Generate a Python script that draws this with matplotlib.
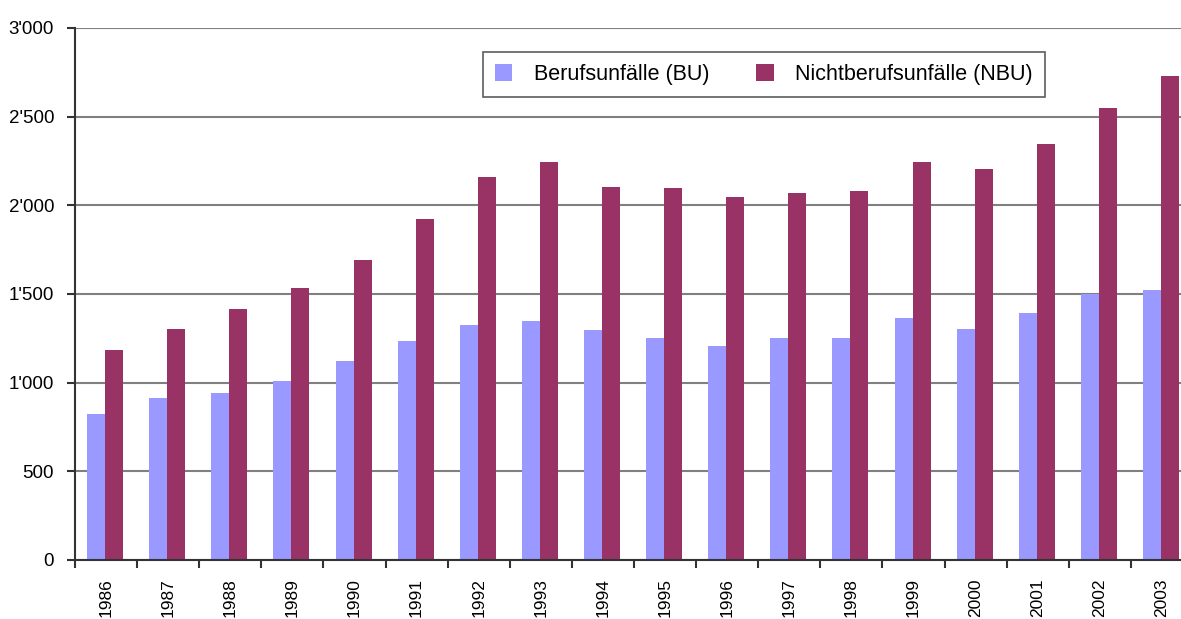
import matplotlib
matplotlib.use("Agg")
import matplotlib.pyplot as plt
import numpy as np
from matplotlib.ticker import FuncFormatter, FixedLocator

plt.rcParams['font.family'] = ['Liberation Sans', 'DejaVu Sans']

years = [str(y) for y in range(1986, 2004)]
bu = [823, 913, 942, 1010, 1123, 1236, 1327, 1349, 1298, 1253,
      1208, 1253, 1253, 1366, 1305, 1394, 1502, 1524]
nbu = [1185, 1304, 1417, 1532, 1693, 1925, 2162, 2242, 2106, 2096,
       2049, 2072, 2083, 2242, 2207, 2344, 2549, 2730]
labels = ["Berufsunfälle (BU)", "Nichtberufsunfälle (NBU)"]
colors = ["#9999FF", "#993366"]

W, H = 1181, 619
fig = plt.figure(figsize=(W / 100, H / 100), dpi=100)
# axes run a little past the right edge, as in the original
ax = fig.add_axes([75 / W, (H - 560) / H, 1118 / W, 532 / H])

x = np.arange(len(years))
bw = 0.29
ax.bar(x - bw / 2 - 0.015, bu, bw, color=colors[0], label=labels[0], zorder=3)
ax.bar(x + bw / 2 - 0.015, nbu, bw, color=colors[1], label=labels[1], zorder=3)

ax.set_xlim(-0.5, len(years) - 0.5)
ax.set_ylim(0, 3000)
ax.set_yticks(np.arange(0, 3001, 500))
ax.yaxis.set_major_formatter(FuncFormatter(lambda v, p: f"{int(v):,}".replace(",", "'")))
ax.grid(axis="y", color="#808080", linewidth=1.5, zorder=0)

ax.set_xticks(x)
ax.set_xticklabels(years, rotation=90, va="top")
ax.xaxis.set_minor_locator(FixedLocator(np.arange(-0.5, len(years), 1.0)))
ax.tick_params(axis="x", which="major", length=0, pad=13, labelsize=12.5)
ax.tick_params(axis="x", which="minor", length=6, width=1.5, color="#333333")
ax.tick_params(axis="y", length=6, width=1.5, color="#333333", pad=9, labelsize=13.5)

for s in ["top", "right"]:
    ax.spines[s].set_visible(False)
for s in ["left", "bottom"]:
    ax.spines[s].set_linewidth(1.5)
    ax.spines[s].set_color("#333333")
    ax.spines[s].set_zorder(4)

leg = ax.legend(loc="upper left", bbox_to_anchor=((483 - 75) / 1118, (560 - 52) / 532),
                ncol=2, frameon=True, fancybox=False, fontsize=15.5,
                handlelength=0.8, handleheight=0.8, handletextpad=1.0,
                columnspacing=2.2, borderpad=0.55, borderaxespad=0)
leg.get_frame().set_edgecolor("#333333")
leg.get_frame().set_linewidth(1.2)

fig.savefig("out.png", dpi=100)
